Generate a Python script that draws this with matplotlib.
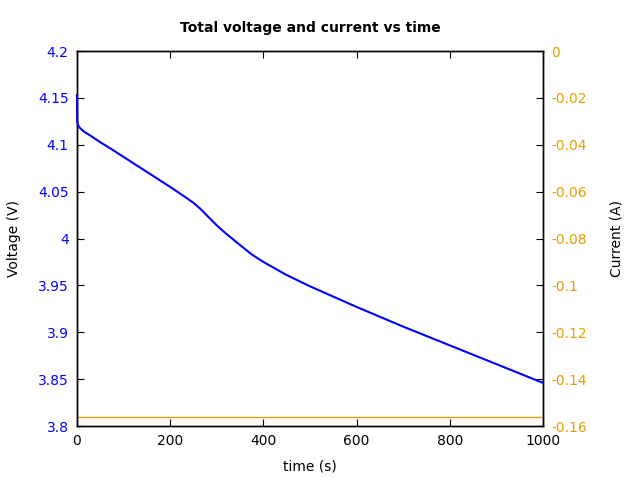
import numpy as np
import matplotlib.pyplot as plt
from matplotlib.ticker import FuncFormatter

# time (s) and voltage (V)
t = [0, 0.5, 2, 6, 15, 28, 49, 75, 100, 150, 200, 230, 250, 264, 280, 300,
     318, 340, 360, 375, 400, 425, 450, 475, 500, 550, 600, 700, 800, 900, 1000]
volt = [4.153, 4.125, 4.121, 4.118, 4.114, 4.110, 4.103, 4.095, 4.087,
        4.071, 4.055, 4.045, 4.038, 4.032, 4.024, 4.014, 4.006, 3.997, 3.989,
        3.983, 3.975, 3.968, 3.961, 3.955, 3.949, 3.938, 3.927, 3.906, 3.886,
        3.866, 3.846]
t_cur = [0, 1000]
current = [-0.156, -0.156]

blue = '#0000ff'
orange = '#e69f00'

fig = plt.figure(figsize=(6.4, 4.8), dpi=100)
ax = fig.add_axes([0.1203, 0.1125, 0.7281, 0.78125])
ax2 = ax.twinx()
# voltage axes on top so its line sits above the spines
ax.set_zorder(ax2.get_zorder() + 1)
ax.patch.set_visible(False)

ax2.plot(t_cur, current, color=orange, linewidth=1.0)
ax.plot(t, volt, color=blue, linewidth=1.5, clip_on=False, zorder=5)

ax.set_xlim(0, 1000)
ax.set_ylim(3.8, 4.2)
ax2.set_ylim(-0.16, 0)
ax.set_xticks(np.arange(0, 1001, 200))
ax.set_yticks(np.arange(3.8, 4.2001, 0.05))
ax2.set_yticks(np.arange(-0.16, 0.0001, 0.02))

def fmt_g(v, p):
    v = round(v, 4)
    if v == 0:
        v = 0
    return '%g' % v

fmt = FuncFormatter(fmt_g)
ax.yaxis.set_major_formatter(fmt)
ax2.yaxis.set_major_formatter(fmt)
ax.xaxis.set_major_formatter(fmt)

ax.tick_params(axis='x', direction='in', top=True, length=5, labelsize=10, pad=6)
ax.tick_params(axis='y', direction='in', length=5, labelsize=10, labelcolor=blue, pad=6)
ax2.tick_params(axis='y', direction='in', length=5, labelsize=10, labelcolor=orange, pad=6)

for a in (ax, ax2):
    for s in a.spines.values():
        s.set_linewidth(1.0)

ax.set_xlabel('time (s)', fontsize=10, labelpad=8)
ax.set_ylabel('Voltage (V)', fontsize=10, labelpad=12)
ax2.set_ylabel('Current (A)', fontsize=10, labelpad=16)
ax.set_title('Total voltage and current vs time', fontsize=10, fontweight='bold', pad=14)

fig.savefig('out.png', dpi=100)
